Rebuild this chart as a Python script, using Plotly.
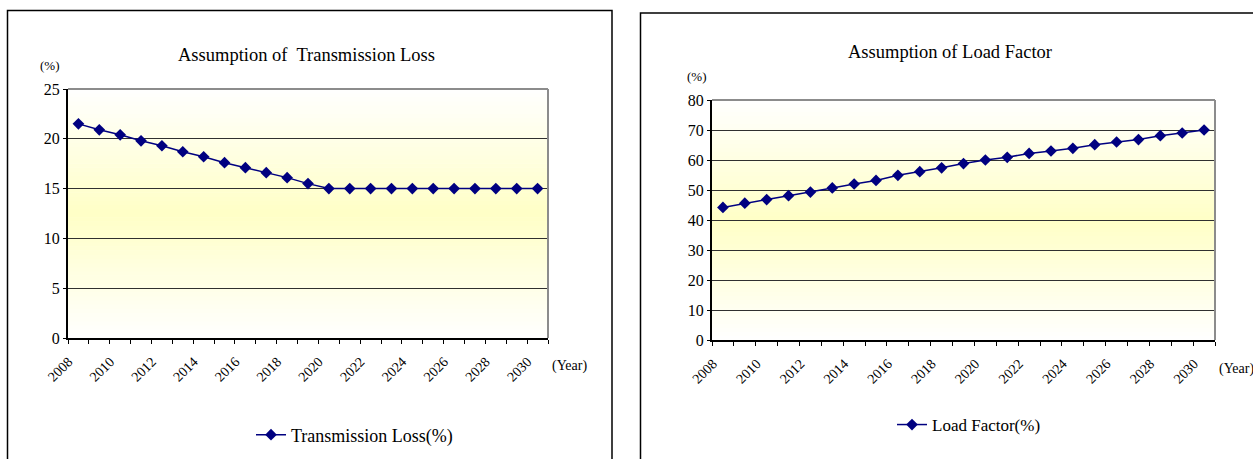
import plotly.graph_objects as go

# ---- data -------------------------------------------------------------
years = list(range(2008, 2031))
transmission_loss = [21.5, 20.9, 20.4, 19.8, 19.3, 18.7, 18.2, 17.6, 17.1, 16.6,
                     16.1, 15.5, 15.0, 15.0, 15.0, 15.0, 15.0, 15.0, 15.0, 15.0,
                     15.0, 15.0, 15.0]
load_factor = [44.2, 45.6, 46.8, 48.1, 49.3, 50.7, 52.0, 53.2, 54.9, 56.1,
               57.4, 58.8, 60.0, 60.9, 62.2, 63.0, 63.9, 65.1, 66.0, 66.8,
               68.1, 69.0, 70.0]
year_labels = list(range(2008, 2031, 2))

W, H = 1253, 459
SERIF = "Liberation Serif, Times New Roman, serif"
NAVY = "#000080"


def px_x(v):
    return v / W


def px_y(v):
    return 1 - v / H


fig = go.Figure()

fig.add_trace(go.Scatter(
    x=years, y=transmission_loss, xaxis="x", yaxis="y",
    mode="lines+markers", name="Transmission Loss(%)",
    line=dict(color=NAVY, width=1.5),
    marker=dict(symbol="diamond", size=9, color=NAVY),
    legend="legend",
))
fig.add_trace(go.Scatter(
    x=years, y=load_factor, xaxis="x2", yaxis="y2",
    mode="lines+markers", name="Load Factor(%)",
    line=dict(color=NAVY, width=1.5),
    marker=dict(symbol="diamond", size=9, color=NAVY),
    legend="legend2",
))

boundaries = [y + 0.5 for y in range(2007, 2031)]


def xaxis_cfg(domain, anchor):
    return dict(
        domain=domain, anchor=anchor, range=[2007.5, 2030.5],
        tickvals=year_labels, ticktext=[str(v) for v in year_labels],
        tickangle=-45, ticks="", showgrid=False, zeroline=False,
        showline=True, linecolor="black", linewidth=2,
        tickfont=dict(family=SERIF, size=14, color="black"),
        ticklabelstandoff=8, ticklabelshift=-10,
        minor=dict(tickvals=boundaries, ticks="outside", ticklen=4,
                   tickcolor="black", tickwidth=1, showgrid=False),
        automargin=False, fixedrange=True,
    )


def yaxis_cfg(domain, anchor, rng, dtick):
    return dict(
        domain=domain, anchor=anchor, range=rng, dtick=dtick,
        ticks="outside", ticklen=3, tickcolor="black",
        showgrid=True, gridcolor="#303030", gridwidth=1,
        zeroline=False, showline=True, linecolor="black", linewidth=2,
        tickfont=dict(family=SERIF, size=16, color="black"),
        automargin=False, fixedrange=True,
    )


left_x = [px_x(68), px_x(548)]
left_y = [px_y(338), px_y(89)]
right_x = [px_x(712), px_x(1215)]
right_y = [px_y(340), px_y(100)]

shapes = []

# vertical white-yellow-white gradient behind each plot area
N = 60
center = (255, 255, 198)
for xr, yr in (("x", "y"), ("x2", "y2")):
    for i in range(N):
        t0, t1 = i / N, (i + 1) / N
        mid = (t0 + t1) / 2
        k = 1 - abs(2 * mid - 1)
        r = round(255 + (center[0] - 255) * k)
        g = round(255 + (center[1] - 255) * k)
        b = round(255 + (center[2] - 255) * k)
        shapes.append(dict(
            type="rect", xref=f"{xr} domain", yref=f"{yr} domain",
            x0=0, x1=1, y0=t0, y1=t1 + 0.002, layer="below",
            line=dict(width=0), fillcolor=f"rgb({r},{g},{b})",
        ))
    # grey top and right edges of the plot area
    shapes.append(dict(type="line", xref=f"{xr} domain", yref=f"{yr} domain",
                       x0=0, x1=1, y0=1, y1=1, layer="above",
                       line=dict(color="#8c8c8c", width=2)))
    shapes.append(dict(type="line", xref=f"{xr} domain", yref=f"{yr} domain",
                       x0=1, x1=1, y0=0, y1=1, layer="above",
                       line=dict(color="#8c8c8c", width=2)))

# outer chart frames
shapes.append(dict(type="rect", xref="paper", yref="paper",
                   x0=px_x(7.5), x1=px_x(612), y0=-0.1, y1=px_y(10.5),
                   line=dict(color="black", width=1.5), layer="above"))
shapes.append(dict(type="rect", xref="paper", yref="paper",
                   x0=px_x(640.5), x1=1.1, y0=-0.1, y1=px_y(13),
                   line=dict(color="black", width=1.5), layer="above"))

annotations = [
    dict(text="Assumption of  Transmission Loss", x=px_x(306), y=px_y(55),
         xref="paper", yref="paper", showarrow=False, xanchor="center",
         yanchor="middle", font=dict(family=SERIF, size=18.5, color="black")),
    dict(text="Assumption of Load Factor", x=px_x(950), y=px_y(52),
         xref="paper", yref="paper", showarrow=False, xanchor="center",
         yanchor="middle", font=dict(family=SERIF, size=18.5, color="black")),
    dict(text="(%)", x=px_x(50), y=px_y(66), xref="paper", yref="paper",
         showarrow=False, xanchor="center", yanchor="middle",
         font=dict(family=SERIF, size=13, color="black")),
    dict(text="(%)", x=px_x(697), y=px_y(76), xref="paper", yref="paper",
         showarrow=False, xanchor="center", yanchor="middle",
         font=dict(family=SERIF, size=13, color="black")),
    dict(text="(Year)", x=px_x(550), y=px_y(366), xref="paper", yref="paper",
         showarrow=False, xanchor="left", yanchor="middle",
         font=dict(family=SERIF, size=14, color="black")),
    dict(text="(Year)", x=px_x(1217), y=px_y(369), xref="paper", yref="paper",
         showarrow=False, xanchor="left", yanchor="middle",
         font=dict(family=SERIF, size=14, color="black")),
]

fig.update_layout(
    width=W, height=H,
    margin=dict(l=0, r=0, t=0, b=0, autoexpand=False),
    paper_bgcolor="white", plot_bgcolor="white",
    xaxis=xaxis_cfg(left_x, "y"),
    yaxis=yaxis_cfg(left_y, "x", [0, 25], 5),
    xaxis2=xaxis_cfg(right_x, "y2"),
    yaxis2=yaxis_cfg(right_y, "x2", [0, 80], 10),
    shapes=shapes,
    annotations=annotations,
    legend=dict(x=px_x(251), y=px_y(435), xanchor="left", yanchor="middle",
                bgcolor="rgba(0,0,0,0)", itemwidth=30,
                font=dict(family=SERIF, size=18, color="black")),
    legend2=dict(x=px_x(892), y=px_y(425), xanchor="left", yanchor="middle",
                 bgcolor="rgba(0,0,0,0)", itemwidth=30,
                 font=dict(family=SERIF, size=17, color="black")),
    showlegend=True,
)

fig.write_html("out.html")
